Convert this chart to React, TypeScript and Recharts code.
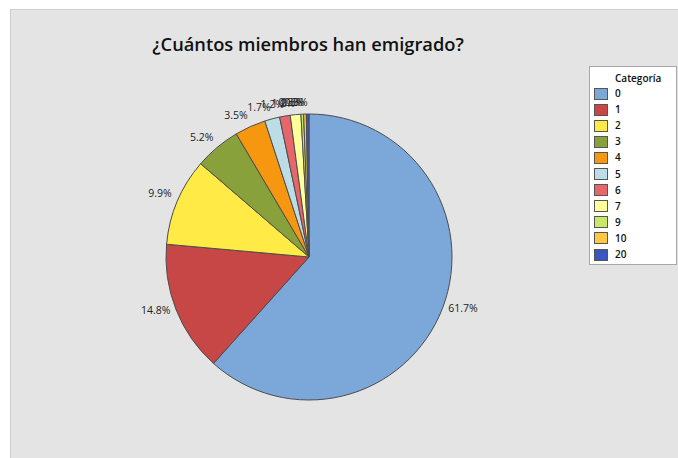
import React from "react";
import { PieChart, Pie, Cell, Legend } from "recharts";

const categories = ["0", "1", "2", "3", "4", "5", "6", "7", "9", "10", "20"];
const percentages = [61.7, 14.8, 9.9, 5.2, 3.5, 1.7, 1.2, 1.2, 0.3, 0.3, 0.3];
const colors = [
  "#7ba7d9",
  "#c74646",
  "#ffea46",
  "#89a13b",
  "#f7960f",
  "#bcdce6",
  "#e6666a",
  "#ffff9b",
  "#c9e86a",
  "#ffc843",
  "#3a56bf",
];

const title = "¿Cuántos miembros han emigrado?";
const legendTitle = "Categoría";

const data = categories.map((c, i) => ({ name: c, value: percentages[i] }));

const FONT = "'Open Sans', 'Noto Sans', sans-serif";
const RAD = Math.PI / 180;

const renderLabel = (props: any) => {
  const { cx, cy, midAngle, outerRadius, value } = props;
  const c = Math.cos(midAngle * RAD);
  const s = Math.sin(midAngle * RAD);
  const ex = cx + outerRadius * c;
  const ey = cy - outerRadius * s;
  const x = ex + 6 * c;
  const y = ey - 6 * s - (s > 0 ? 6 : 2);
  return (
    <text
      x={x}
      y={y}
      textAnchor={c >= 0 ? "start" : "end"}
      dominantBaseline="central"
      fontSize={10.5}
      fontFamily={FONT}
      fill="#222"
    >
      {`${Number(value).toFixed(1)}%`}
    </text>
  );
};

const LegendContent = () => {
  return (
    <div
      style={{
        width: 88,
        height: 199,
        boxSizing: "border-box",
        background: "#ffffff",
        border: "1px solid #a8a8a8",
        fontFamily: FONT,
        fontSize: 10,
        fontWeight: 600,
        color: "#111",
        position: "relative",
      }}
    >
      <div style={{ position: "absolute", left: 25, top: 4, lineHeight: "14px" }}>{legendTitle}</div>
      {categories.map((cat, i) => (
        <div
          key={cat}
          style={{ position: "absolute", left: 4, top: 20 + i * 16.1, height: 13, display: "flex", alignItems: "center" }}
        >
          <div
            style={{
              width: 14,
              height: 12,
              boxSizing: "border-box",
              background: colors[i],
              border: "1px solid #555",
            }}
          />
          <span style={{ marginLeft: 7, lineHeight: "13px" }}>{cat}</span>
        </div>
      ))}
    </div>
  );
};

export default function App() {
  return (
    <div style={{ position: "absolute", left: 0, top: 0, width: 678, height: 458, background: "#fff", overflow: "hidden" }}>
      <div
        style={{
          position: "absolute",
          left: 10,
          top: 9,
          width: 668,
          height: 449,
          boxSizing: "border-box",
          background: "#e4e4e4",
          borderLeft: "1px solid #cfcfcf",
          borderTop: "1px solid #cfcfcf",
        }}
      />
      <div
        style={{
          position: "absolute",
          left: 0,
          top: 31,
          width: 616,
          textAlign: "center",
          fontFamily: FONT,
          fontSize: 18.3,
          fontWeight: 600,
          color: "#111",
          lineHeight: "26px",
        }}
      >
        {title}
      </div>
      <div style={{ position: "absolute", left: 0, top: 0 }}>
        <PieChart width={678} height={458} margin={{ top: 0, right: 0, bottom: 0, left: 0 }}>
          <Pie
            data={data}
            dataKey="value"
            nameKey="name"
            cx={309}
            cy={257}
            outerRadius={143}
            startAngle={90}
            endAngle={-270}
            stroke="#4d4d4d"
            strokeWidth={1}
            label={renderLabel}
            labelLine={false}
            isAnimationActive={false}
          >
            {data.map((d, i) => (
              <Cell key={d.name} fill={colors[i]} />
            ))}
          </Pie>
          <Legend
            layout="vertical"
            align="right"
            verticalAlign="top"
            content={<LegendContent />}
            wrapperStyle={{ position: "absolute", left: 589, top: 66, width: 88, height: 199 }}
          />
        </PieChart>
      </div>
    </div>
  );
}
